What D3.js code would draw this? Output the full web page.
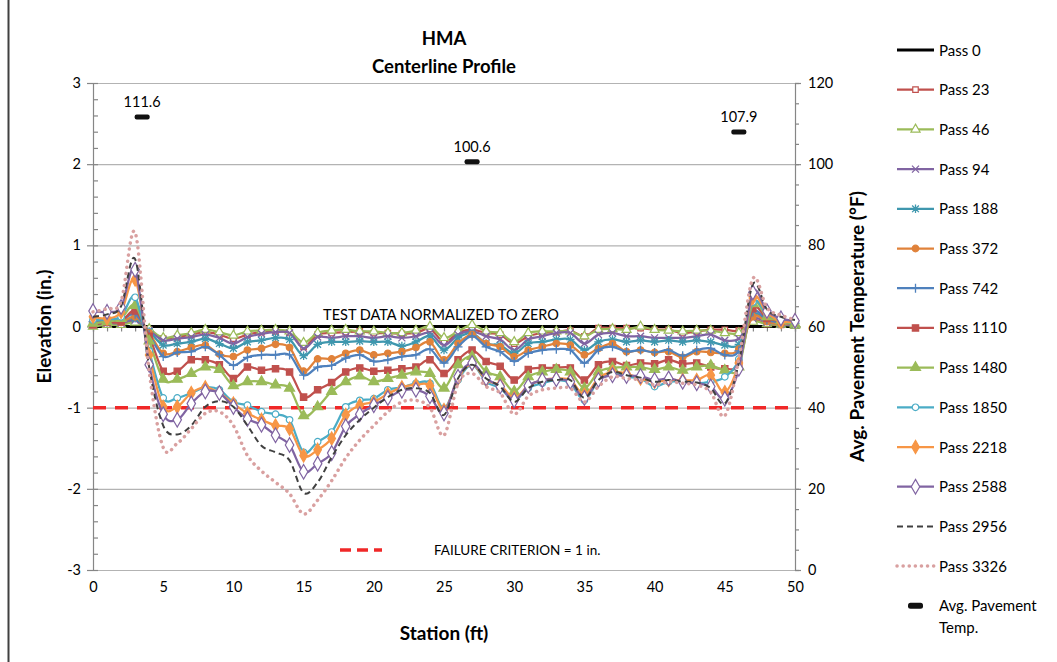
<!DOCTYPE html>
<html>
<head>
<meta charset="utf-8">
<script src="https://cdn.jsdelivr.net/npm/d3@7"></script>
<style>
  body { margin: 0; background: #fff; }
  svg { display: block; }
  text { font-family: Lato, "Open Sans", "Noto Sans", sans-serif; fill: #000; }
</style>
</head>
<body>
<svg id="chart" width="1057" height="662"></svg>
<script>
// Stations along the centerline (ft)
const stations = [0,1,2,3,4,5,6,7,8,9,10,11,12,13,14,15,16,17,18,19,20,21,22,23,24,25,26,27,28,29,30,31,32,33,34,35,36,37,38,39,40,41,42,43,44,45,46,47,48,49,50];

// Elevation change (in.) at each station, one list per pass count
const pass0    = [0,0,0,0,0,0,0,0,0,0,0,0,0,0,0,0,0,0,0,0,0,0,0,0,0,0,0,0,0,0,0,0,0,0,0,0,0,0,0,0,0,0,0,0,0,0,0,0,0,0,0];
const pass23   = [0.01,0.03,0.03,0.06,-0.04,-0.15,-0.13,-0.10,-0.07,-0.10,-0.15,-0.10,-0.07,-0.06,-0.08,-0.25,-0.10,-0.08,-0.07,-0.06,-0.08,-0.08,-0.09,-0.08,-0.03,-0.19,-0.08,-0.04,-0.08,-0.10,-0.21,-0.12,-0.08,-0.07,-0.05,-0.12,-0.02,-0.02,-0.02,-0.02,-0.04,-0.04,-0.08,-0.06,-0.04,-0.04,-0.05,0.08,0.03,0.02,0.02];
const pass46   = [0.00,0.02,0.02,0.05,-0.03,-0.14,-0.11,-0.08,-0.04,-0.07,-0.11,-0.06,-0.05,-0.04,-0.06,-0.20,-0.08,-0.05,-0.04,-0.06,-0.06,-0.08,-0.08,-0.05,0.00,-0.14,-0.06,0.02,-0.06,-0.08,-0.19,-0.08,-0.06,-0.06,-0.06,-0.12,-0.04,-0.03,-0.04,0.00,-0.04,-0.05,-0.06,-0.05,-0.05,-0.08,-0.08,0.06,0.03,0.02,0.01];
const pass94   = [0.03,0.04,0.04,0.08,-0.05,-0.17,-0.15,-0.13,-0.10,-0.14,-0.21,-0.13,-0.09,-0.07,-0.08,-0.27,-0.13,-0.14,-0.12,-0.12,-0.14,-0.12,-0.14,-0.12,-0.08,-0.23,-0.10,-0.06,-0.12,-0.16,-0.29,-0.16,-0.12,-0.08,-0.08,-0.21,-0.10,-0.08,-0.12,-0.12,-0.14,-0.14,-0.14,-0.12,-0.10,-0.17,-0.15,0.10,0.05,0.03,0.02];
const pass188  = [0.04,0.05,0.06,0.10,-0.06,-0.23,-0.21,-0.19,-0.15,-0.21,-0.27,-0.19,-0.17,-0.14,-0.16,-0.36,-0.22,-0.19,-0.19,-0.18,-0.19,-0.19,-0.24,-0.19,-0.12,-0.29,-0.14,-0.08,-0.21,-0.23,-0.33,-0.21,-0.19,-0.16,-0.16,-0.29,-0.19,-0.16,-0.19,-0.17,-0.19,-0.17,-0.19,-0.17,-0.19,-0.23,-0.22,0.15,0.07,0.04,0.03];
const pass372  = [0.05,0.06,0.05,0.12,-0.08,-0.33,-0.31,-0.26,-0.23,-0.34,-0.37,-0.29,-0.27,-0.22,-0.26,-0.55,-0.40,-0.40,-0.33,-0.29,-0.35,-0.33,-0.31,-0.26,-0.19,-0.41,-0.21,-0.10,-0.21,-0.25,-0.37,-0.29,-0.25,-0.21,-0.23,-0.35,-0.27,-0.21,-0.31,-0.29,-0.32,-0.31,-0.38,-0.31,-0.32,-0.33,-0.28,0.12,0.06,0.03,0.05];
const pass742  = [0.06,0.08,0.08,0.15,-0.10,-0.37,-0.32,-0.31,-0.25,-0.35,-0.48,-0.38,-0.35,-0.35,-0.35,-0.60,-0.50,-0.48,-0.39,-0.35,-0.43,-0.41,-0.37,-0.35,-0.28,-0.45,-0.25,-0.12,-0.25,-0.31,-0.43,-0.33,-0.29,-0.28,-0.29,-0.45,-0.29,-0.25,-0.31,-0.29,-0.32,-0.29,-0.36,-0.29,-0.27,-0.35,-0.30,0.18,0.08,0.05,0.04];
const pass1110 = [0.02,0.05,0.06,0.19,-0.12,-0.55,-0.55,-0.41,-0.41,-0.47,-0.64,-0.50,-0.54,-0.52,-0.56,-0.87,-0.78,-0.69,-0.56,-0.51,-0.55,-0.54,-0.52,-0.50,-0.41,-0.58,-0.41,-0.29,-0.43,-0.49,-0.66,-0.53,-0.51,-0.51,-0.51,-0.66,-0.47,-0.43,-0.48,-0.45,-0.46,-0.41,-0.46,-0.45,-0.50,-0.52,-0.45,0.22,0.10,0.07,0.05];
const pass1480 = [0.04,0.06,0.10,0.26,-0.18,-0.65,-0.65,-0.58,-0.50,-0.53,-0.73,-0.68,-0.68,-0.72,-0.76,-1.10,-0.99,-0.80,-0.68,-0.61,-0.68,-0.64,-0.60,-0.56,-0.58,-0.76,-0.47,-0.37,-0.56,-0.62,-0.80,-0.62,-0.56,-0.53,-0.56,-0.76,-0.56,-0.51,-0.50,-0.50,-0.53,-0.50,-0.54,-0.50,-0.48,-0.54,-0.50,0.28,0.12,0.07,0.03];
const pass1850 = [0.08,0.09,0.12,0.36,-0.30,-0.88,-0.88,-0.82,-0.75,-0.78,-0.93,-0.97,-1.05,-1.08,-1.15,-1.55,-1.42,-1.30,-0.99,-0.91,-0.89,-0.78,-0.75,-0.70,-0.70,-1.01,-0.66,-0.47,-0.68,-0.76,-0.91,-0.76,-0.70,-0.66,-0.70,-0.91,-0.66,-0.58,-0.62,-0.64,-0.74,-0.68,-0.68,-0.70,-0.68,-0.62,-0.40,0.30,0.15,0.08,0.06];
const pass2218 = [0.12,0.10,0.18,0.58,-0.35,-0.99,-0.99,-0.82,-0.75,-0.82,-0.95,-1.07,-1.15,-1.22,-1.26,-1.59,-1.52,-1.38,-1.09,-0.97,-0.93,-0.83,-0.75,-0.72,-0.73,-1.03,-0.64,-0.46,-0.66,-0.72,-0.88,-0.73,-0.66,-0.64,-0.66,-0.84,-0.64,-0.56,-0.58,-0.64,-0.68,-0.66,-0.66,-0.66,-0.60,-0.81,-0.45,0.35,0.17,0.06,0.07];
const pass2588 = [0.19,0.18,0.24,0.70,-0.47,-1.08,-1.15,-0.95,-0.80,-0.82,-0.99,-1.14,-1.21,-1.34,-1.46,-1.79,-1.69,-1.56,-1.23,-1.08,-0.97,-0.88,-0.79,-0.78,-0.86,-1.07,-0.62,-0.45,-0.64,-0.74,-0.91,-0.73,-0.66,-0.65,-0.68,-0.88,-0.66,-0.60,-0.61,-0.61,-0.66,-0.64,-0.68,-0.70,-0.74,-0.89,-0.52,0.42,0.19,0.10,0.07];
const pass2956 = [0.12,0.15,0.25,0.83,-0.50,-1.22,-1.33,-1.22,-0.99,-0.92,-0.99,-1.22,-1.47,-1.55,-1.65,-2.05,-1.92,-1.61,-1.34,-1.15,-1.00,-0.87,-0.78,-0.76,-0.82,-1.09,-0.64,-0.47,-0.64,-0.74,-0.93,-0.76,-0.68,-0.66,-0.66,-0.88,-0.66,-0.56,-0.60,-0.63,-0.68,-0.66,-0.68,-0.69,-0.76,-0.95,-0.45,0.52,0.21,0.12,0.08];
const pass3326 = [0.18,0.22,0.31,1.16,-0.55,-1.49,-1.44,-1.26,-1.07,-1.05,-1.22,-1.59,-1.78,-1.92,-2.06,-2.31,-2.14,-1.90,-1.62,-1.40,-1.22,-1.05,-0.93,-0.91,-1.00,-1.34,-0.70,-0.58,-0.74,-0.82,-1.08,-0.86,-0.78,-0.76,-0.76,-0.93,-0.74,-0.62,-0.64,-0.66,-0.72,-0.68,-0.70,-0.72,-0.81,-1.10,-0.40,0.59,0.23,0.14,0.08];

// Average pavement temperature readings (°F)
const tempStations = [3.5, 27, 46];
const tempValues = [111.6, 100.6, 107.9];

// Axis ticks
const elevTicks = [-3,-2,-1,0,1,2,3];
const tempTicks = [0,20,40,60,80,100,120];
const stationTicks = [0,5,10,15,20,25,30,35,40,45,50];

const failureLimit = -1;

// Series drawing styles, in legend order
const series = [
  { name: "Pass 0",    values: pass0,    color: "#000000", width: 3,    marker: null },
  { name: "Pass 23",   values: pass23,   color: "#C0504D", width: 2.25, marker: "squareOpen" },
  { name: "Pass 46",   values: pass46,   color: "#9BBB59", width: 2.25, marker: "triangleOpen" },
  { name: "Pass 94",   values: pass94,   color: "#8064A2", width: 2.25, marker: "cross" },
  { name: "Pass 188",  values: pass188,  color: "#3F97AE", width: 2.25, marker: "star" },
  { name: "Pass 372",  values: pass372,  color: "#E0823A", width: 2.25, marker: "circle" },
  { name: "Pass 742",  values: pass742,  color: "#4F81BD", width: 2.25, marker: "plus" },
  { name: "Pass 1110", values: pass1110, color: "#C0504D", width: 2.25, marker: "square" },
  { name: "Pass 1480", values: pass1480, color: "#9BBB59", width: 2.25, marker: "triangle" },
  { name: "Pass 1850", values: pass1850, color: "#4BACC6", width: 2.25, marker: "circleOpen" },
  { name: "Pass 2218", values: pass2218, color: "#F79646", width: 2.25, marker: "diamond" },
  { name: "Pass 2588", values: pass2588, color: "#8064A2", width: 2.25, marker: "diamondOpen" },
  { name: "Pass 2956", values: pass2956, color: "#404040", width: 2,    marker: null, dash: "6,4" },
  { name: "Pass 3326", values: pass3326, color: "#D9A0A0", width: 3.5,  marker: null, dash: "0.1,6", cap: "round" }
];

const svg = d3.select("#chart");

// Plot frame
const x = d3.scaleLinear().domain([0, 50]).range([93, 795]);
const y = d3.scaleLinear().domain([-3, 3]).range([570, 83]);
const yT = d3.scaleLinear().domain([0, 120]).range([570, 83]);

// Plain hyphen-minus for negative labels
const plainNum = d => String(d);

// Chart border
svg.append("line").attr("x1", 8.5).attr("x2", 8.5).attr("y1", 0).attr("y2", 662)
  .attr("stroke", "#404040").attr("stroke-width", 2);

// Horizontal gridlines
svg.append("g").selectAll("line").data(elevTicks).join("line")
  .attr("x1", x(0)).attr("x2", x(50))
  .attr("y1", d => y(d) + 0.5).attr("y2", d => y(d) + 0.5)
  .attr("stroke", "#B3B3B3").attr("stroke-width", 1.2);

function styleAxis(g) {
  g.select(".domain").attr("stroke", "#868686").attr("stroke-width", 1.2);
  g.selectAll(".tick line").attr("stroke", "#868686").attr("stroke-width", 1.2);
  g.selectAll(".tick text").attr("font-size", 14.5).attr("font-family", "Lato, sans-serif").attr("fill", "#000");
}

// Left axis: labelled majors outside, minors inside
svg.append("g").attr("transform", `translate(${x(0)},0)`)
  .call(d3.axisLeft(y).tickValues(elevTicks).tickSize(6).tickPadding(6).tickFormat(plainNum))
  .call(styleAxis);
svg.append("g").attr("transform", `translate(${x(0)},0)`)
  .call(d3.axisLeft(y).tickValues(d3.range(-3, 3.001, 0.2)).tickSize(-5).tickFormat(""))
  .call(g => g.select(".domain").remove())
  .call(styleAxis);

// Right axis for temperature
svg.append("g").attr("transform", `translate(${x(50)},0)`)
  .call(d3.axisRight(yT).tickValues(tempTicks).tickSize(6).tickPadding(7).tickFormat(plainNum))
  .call(styleAxis);
svg.append("g").attr("transform", `translate(${x(50)},0)`)
  .call(d3.axisRight(yT).tickValues(d3.range(0, 121, 5)).tickSize(4).tickFormat(""))
  .call(g => g.select(".domain").remove())
  .call(styleAxis);

// Station axis crosses at zero elevation; labels sit below the plot
svg.append("g").attr("transform", `translate(0,${y(0)})`)
  .call(d3.axisBottom(x).tickValues(stations).tickSize(5).tickFormat(""))
  .call(styleAxis);
svg.append("g").attr("transform", `translate(0,${y(-3)})`)
  .call(d3.axisBottom(x).tickValues(stationTicks).tickSize(0).tickPadding(12).tickFormat(plainNum))
  .call(g => g.select(".domain").remove())
  .call(styleAxis);

// Failure criterion line
svg.append("line")
  .attr("x1", x(0)).attr("x2", x(50))
  .attr("y1", y(failureLimit)).attr("y2", y(failureLimit))
  .attr("stroke", "#F02828").attr("stroke-width", 3.5).attr("stroke-dasharray", "13,9");

// Profiles
const line = d3.line()
  .x((d, i) => x(stations[i]))
  .y(d => y(d))
  .curve(d3.curveCardinal.tension(0));

const markerShapes = {
  squareOpen:   { sym: d3.symbolSquare,   size: 30, fill: "#fff" },
  triangleOpen: { sym: d3.symbolTriangle, size: 36, fill: "#fff" },
  cross:        { stroke: true },
  star:         { stroke: true },
  circle:       { sym: d3.symbolCircle,   size: 34, fill: null },
  plus:         { stroke: true },
  square:       { sym: d3.symbolSquare,   size: 40, fill: null },
  triangle:     { sym: d3.symbolTriangle, size: 44, fill: null },
  circleOpen:   { sym: d3.symbolCircle,   size: 34, fill: "#fff" },
  diamond:      { sym: d3.symbolDiamond,  size: 50, fill: null },
  diamondOpen:  { sym: d3.symbolDiamond,  size: 62, fill: "#fff" }
};
// Cross-shaped glyphs drawn as plain strokes
const plusPath = r => `M${-r},0H${r}M0,${-r}V${r}`;
const xPath = r => `M${-r},${-r}L${r},${r}M${-r},${r}L${r},${-r}`;
const starPath = r => xPath(r * 0.8) + plusPath(r);

function markerPath(kind) {
  if (kind === "plus") return plusPath(4.5);
  if (kind === "cross") return xPath(3.5);
  if (kind === "star") return starPath(4.2);
  const m = markerShapes[kind];
  return d3.symbol(m.sym, m.size)();
}

function drawMarker(sel, kind, color) {
  const m = markerShapes[kind];
  sel.attr("d", markerPath(kind))
    .attr("fill", m.stroke ? "none" : (m.fill === null ? color : m.fill))
    .attr("stroke", color)
    .attr("stroke-width", m.stroke ? 1.3 : 1.2);
}

const plot = svg.append("g");
series.forEach(s => {
  const g = plot.append("g");
  g.append("path")
    .attr("d", line(s.values))
    .attr("fill", "none")
    .attr("stroke", s.color)
    .attr("stroke-width", s.width)
    .attr("stroke-dasharray", s.dash || null)
    .attr("stroke-linecap", s.cap || "butt")
    .attr("stroke-linejoin", "round");
  if (s.marker) {
    g.selectAll("path.mk").data(s.values).join("path")
      .attr("class", "mk")
      .attr("transform", (d, i) => `translate(${x(stations[i])},${y(d)})`)
      .call(sel => drawMarker(sel, s.marker, s.color));
  }
});

// Average pavement temperature markers and labels
const temps = tempStations.map((st, i) => ({ st, t: tempValues[i] }));
svg.append("g").selectAll("rect").data(temps).join("rect")
  .attr("x", d => x(d.st) - 7.5).attr("y", d => yT(d.t) - 2.5)
  .attr("width", 15).attr("height", 5).attr("rx", 2)
  .attr("fill", "#111");
svg.append("g").selectAll("text").data(temps).join("text")
  .attr("x", d => x(d.st)).attr("y", d => yT(d.t) - 10)
  .attr("text-anchor", "middle").attr("font-size", 14.5)
  .text(d => d3.format(".1f")(d.t));

// Annotations
svg.append("text").attr("x", 441).attr("y", 320).attr("text-anchor", "middle")
  .attr("font-size", 14.5).text("TEST DATA NORMALIZED TO ZERO");
svg.append("line").attr("x1", 340).attr("x2", 382).attr("y1", 550).attr("y2", 550)
  .attr("stroke", "#F02828").attr("stroke-width", 3.5).attr("stroke-dasharray", "11,6");
svg.append("text").attr("x", 434).attr("y", 555).attr("font-size", 13.5)
  .text("FAILURE CRITERION = 1 in.");

// Titles
svg.append("text").attr("x", 444).attr("y", 45).attr("text-anchor", "middle")
  .attr("font-size", 18.5).attr("font-weight", "bold").text("HMA");
svg.append("text").attr("x", 444).attr("y", 73).attr("text-anchor", "middle")
  .attr("font-size", 18.5).attr("font-weight", "bold").text("Centerline Profile");
svg.append("text").attr("x", 444).attr("y", 640).attr("text-anchor", "middle")
  .attr("font-size", 19).attr("font-weight", "bold").text("Station (ft)");
svg.append("text").attr("transform", `translate(51,${y(0)}) rotate(-90)`)
  .attr("text-anchor", "middle").attr("font-size", 19).attr("font-weight", "bold")
  .text("Elevation (in.)");
svg.append("text").attr("transform", `translate(864,${y(0)}) rotate(-90)`)
  .attr("text-anchor", "middle").attr("font-size", 19).attr("font-weight", "bold")
  .text("Avg. Pavement Temperature (°F)");

// Legend
const legend = svg.append("g");
series.forEach((s, i) => {
  const ly = 50 + i * 39.7;
  const row = legend.append("g").attr("transform", `translate(0,${ly})`);
  row.append("line").attr("x1", 897).attr("x2", 934).attr("y1", 0).attr("y2", 0)
    .attr("stroke", s.color).attr("stroke-width", s.width)
    .attr("stroke-dasharray", s.dash || null).attr("stroke-linecap", s.cap || "butt");
  if (s.marker) {
    row.append("path").attr("transform", "translate(915.5,0)").call(sel => drawMarker(sel, s.marker, s.color));
  }
  row.append("text").attr("x", 939).attr("y", 5.5).attr("font-size", 15).text(s.name);
});
const tl = legend.append("g").attr("transform", `translate(0,${50 + series.length * 39.7})`);
tl.append("rect").attr("x", 908).attr("y", -3).attr("width", 15).attr("height", 6).attr("rx", 2.5).attr("fill", "#111");
tl.append("text").attr("x", 939).attr("y", 5.5).attr("font-size", 15).text("Avg. Pavement");
tl.append("text").attr("x", 939).attr("y", 27.5).attr("font-size", 15).text("Temp.");
</script>
</body>
</html>
